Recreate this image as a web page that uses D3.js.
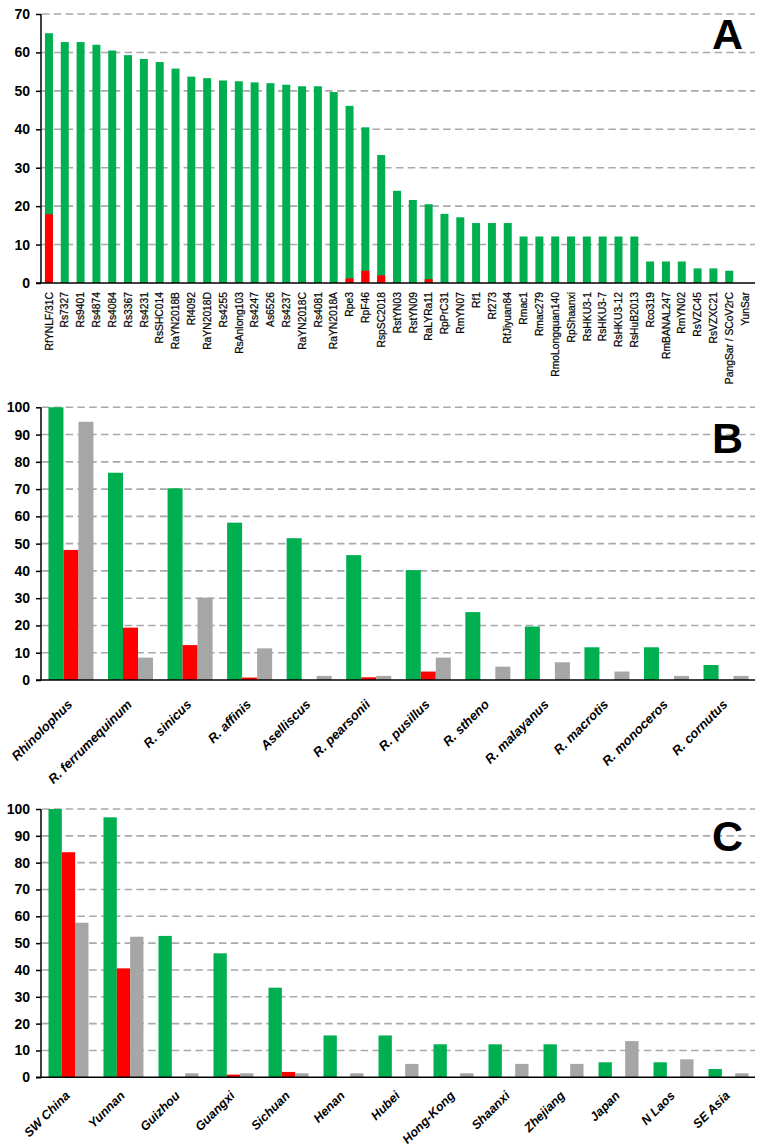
<!DOCTYPE html>
<html>
<head>
<meta charset="utf-8">
<script src="https://cdn.jsdelivr.net/npm/d3@7"></script>
<style>
body{margin:0;background:#fff;}
svg{display:block;}
text{font-family:"Liberation Sans",Arial,sans-serif;fill:#000;}
</style>
</head>
<body>
<svg id="chart" width="769" height="1148"></svg>
<script>
// ---------- Panel A data ----------
const strainsA = ["RfYNLF/31C","Rs7327","Rs9401","Rs4874","Rs4084","Rs3367","Rs4231","RsSHC014","RaYN2018B","Rf4092","RaYN2018D","Rs4255","RsAnlong103","Rs4247","As6526","Rs4237","RaYN2018C","Rs4081","RaYN2018A","Rpe3","RpF46","RspSC2018","RstYN03","RstYN09","RaLYRa11","RpPrC31","RmYN07","Rf1","Rf273","RfJiyuan84","Rmac1","Rmac279","RmoLongquan140","RpShaanxi","RsHKU3-1","RsHKU3-7","RsHKU3-12","RsHuB2013","Rco319","RmBANAL247","RmYN02","RsVZC45","RsVZXC21","PangSar / SCoV2rC","YunSar"];
const greenA = [65,62.7,62.7,62,60.5,59.3,58.3,57.5,55.8,53.7,53.3,52.7,52.5,52.2,52,51.6,51.2,51.2,49.7,46.1,40.5,33.3,24,21.6,20.5,18,17.1,15.6,15.6,15.6,12.1,12.1,12.1,12.1,12.1,12.1,12.1,12.1,5.6,5.6,5.6,3.8,3.8,3.2,0];
const redA = [17.9,0,0,0,0,0,0,0,0,0,0,0,0,0,0,0,0,0,0,1.2,3.2,2.0,0,0,1.0,0,0,0,0,0,0,0,0,0,0,0,0,0,0,0,0,0,0,0,0];
const ticksA = [0,10,20,30,40,50,60,70];

// ---------- Panel B data ----------
const speciesB = ["Rhinolophus","R. ferrumequinum","R. sinicus","R. affinis","Aselliscus","R. pearsonii","R. pusillus","R. stheno","R. malayanus","R. macrotis","R. monoceros","R. cornutus"];
const greenB = [100,76.0,70.3,57.7,52.0,45.8,40.3,24.9,19.6,12.0,12.0,5.5];
const redB = [47.7,19.2,12.8,0.9,0,1.0,3.1,0,0,0,0,0];
const grayB = [94.7,8.2,30.2,11.6,1.5,1.5,8.2,4.9,6.5,3.1,1.5,1.5];
const ticksB = [0,10,20,30,40,50,60,70,80,90,100];

// ---------- Panel C data ----------
const regionsC = ["SW China","Yunnan","Guizhou","Guangxi","Sichuan","Henan","Hubei","Hong-Kong","Shaanxi","Zhejiang","Japan","N Laos","SE Asia"];
const greenC = [100,96.9,52.7,46.2,33.4,15.6,15.6,12.3,12.3,12.3,5.6,5.6,3.1];
const redC = [83.9,40.6,0,1.0,2.0,0,0,0,0,0,0,0,0];
const grayC = [57.6,52.4,1.5,1.5,1.5,1.5,5.0,1.5,5.0,5.0,13.5,6.7,1.5];
const ticksC = [0,10,20,30,40,50,60,70,80,90,100];

const COLORS = {green:"#00b050", red:"#ff0000", gray:"#a6a6a6"};
const svg = d3.select("#chart");
const X0 = 41, X1 = 755;

function yAxisGrid(g, y, ticks){
  g.append("g").selectAll("line").data(ticks.filter(t=>t>0)).join("line")
    .attr("x1", X0+1).attr("x2", X1).attr("y1", d=>y(d)).attr("y2", d=>y(d))
    .attr("stroke","#a9a9a9").attr("stroke-width",1.6).attr("stroke-dasharray","7.5,4.3");
  const ax = g.append("g").attr("transform",`translate(${X0},0)`)
    .call(d3.axisLeft(y).tickValues(ticks).tickSize(5).tickPadding(6).tickFormat(d3.format("d")));
  ax.attr("font-size",null).attr("font-family",null);
  ax.select(".domain").attr("stroke","#000").attr("stroke-width",1.5).attr("d",`M0,${y(ticks[ticks.length-1])}V${y(0)}`);
  ax.selectAll(".tick line").attr("stroke","#000").attr("stroke-width",1.5);
  ax.selectAll(".tick text").attr("font-size","14px").attr("font-weight","bold").attr("fill","#111");
}
function baseline(g, y){
  g.append("line").attr("x1", X0-5).attr("x2", X1).attr("y1", y(0)).attr("y2", y(0))
    .attr("stroke","#000").attr("stroke-width",1.6);
}
function panelLetter(txt, yb){
  svg.append("text").attr("x",743).attr("y",yb).attr("text-anchor","end")
    .attr("font-size","43px").attr("font-weight","bold").text(txt);
}

// ---------- Panel A ----------
{
  const g = svg.append("g");
  const y = d3.scaleLinear().domain([0,70]).range([283,14]);
  const x = d3.scaleBand().domain(strainsA).range([X0,753]).paddingInner(0.495).paddingOuter(0.25);
  yAxisGrid(g, y, ticksA);
  g.append("g").selectAll("rect").data(strainsA.map((s,i)=>({s,v:greenA[i]}))).join("rect")
    .attr("x",d=>x(d.s)).attr("width",x.bandwidth()).attr("y",d=>y(d.v)).attr("height",d=>y(0)-y(d.v))
    .attr("fill",COLORS.green);
  g.append("g").selectAll("rect").data(strainsA.map((s,i)=>({s,v:redA[i]})).filter(d=>d.v>0)).join("rect")
    .attr("x",d=>x(d.s)).attr("width",x.bandwidth()).attr("y",d=>y(d.v)).attr("height",d=>y(0)-y(d.v))
    .attr("fill",COLORS.red);
  baseline(g, y);
  g.append("g").selectAll("text").data(strainsA).join("text")
    .attr("transform",d=>`translate(${x(d)+x.bandwidth()/2},292) rotate(-90)`)
    .attr("text-anchor","end").attr("dy","0.36em").attr("font-size","10.3px")
    .attr("fill","#111").attr("stroke","#111").attr("stroke-width",0.25).text(d=>d);
  panelLetter("A", 49);
}

function groupedPanel(cats, series, ticks, y0, y100, letter, letterY, pIn, pOut, labelFs, labelOff){
  const g = svg.append("g");
  const y = d3.scaleLinear().domain([0,100]).range([y0,y100]);
  const x = d3.scaleBand().domain(cats).range([X0,756]).paddingInner(pIn).paddingOuter(pOut);
  const keys = ["green","red","gray"];
  const xi = d3.scaleBand().domain(keys).range([0,x.bandwidth()]);
  yAxisGrid(g, y, ticks);
  const grp = g.append("g").selectAll("g").data(cats).join("g").attr("transform",d=>`translate(${x(d)},0)`);
  grp.selectAll("rect").data((d,i)=>keys.map(k=>({k,v:series[k][i]})).filter(e=>e.v>0)).join("rect")
    .attr("x",d=>xi(d.k)).attr("width",xi.bandwidth()).attr("y",d=>y(d.v)).attr("height",d=>y(0)-y(d.v))
    .attr("fill",d=>COLORS[d.k]);
  baseline(g, y);
  g.append("g").selectAll("text").data(cats).join("text")
    .attr("transform",d=>`translate(${x(d)+x.bandwidth()/2-1},${y0+labelOff}) rotate(-45)`)
    .attr("text-anchor","end").attr("dy","0.35em").attr("font-size",labelFs)
    .attr("font-weight","bold").attr("font-style","italic").attr("fill","#111").text(d=>d);
  panelLetter(letter, letterY);
}

groupedPanel(speciesB, {green:greenB, red:redB, gray:grayB}, ticksB, 680, 407.3, "B", 452.5, 0.244, 0.125, "13px", 22);
groupedPanel(regionsC, {green:greenC, red:redC, gray:grayC}, ticksC, 1077.3, 809, "C", 850.5, 0.273, 0.136, "12.5px", 16);
</script>
</body>
</html>
